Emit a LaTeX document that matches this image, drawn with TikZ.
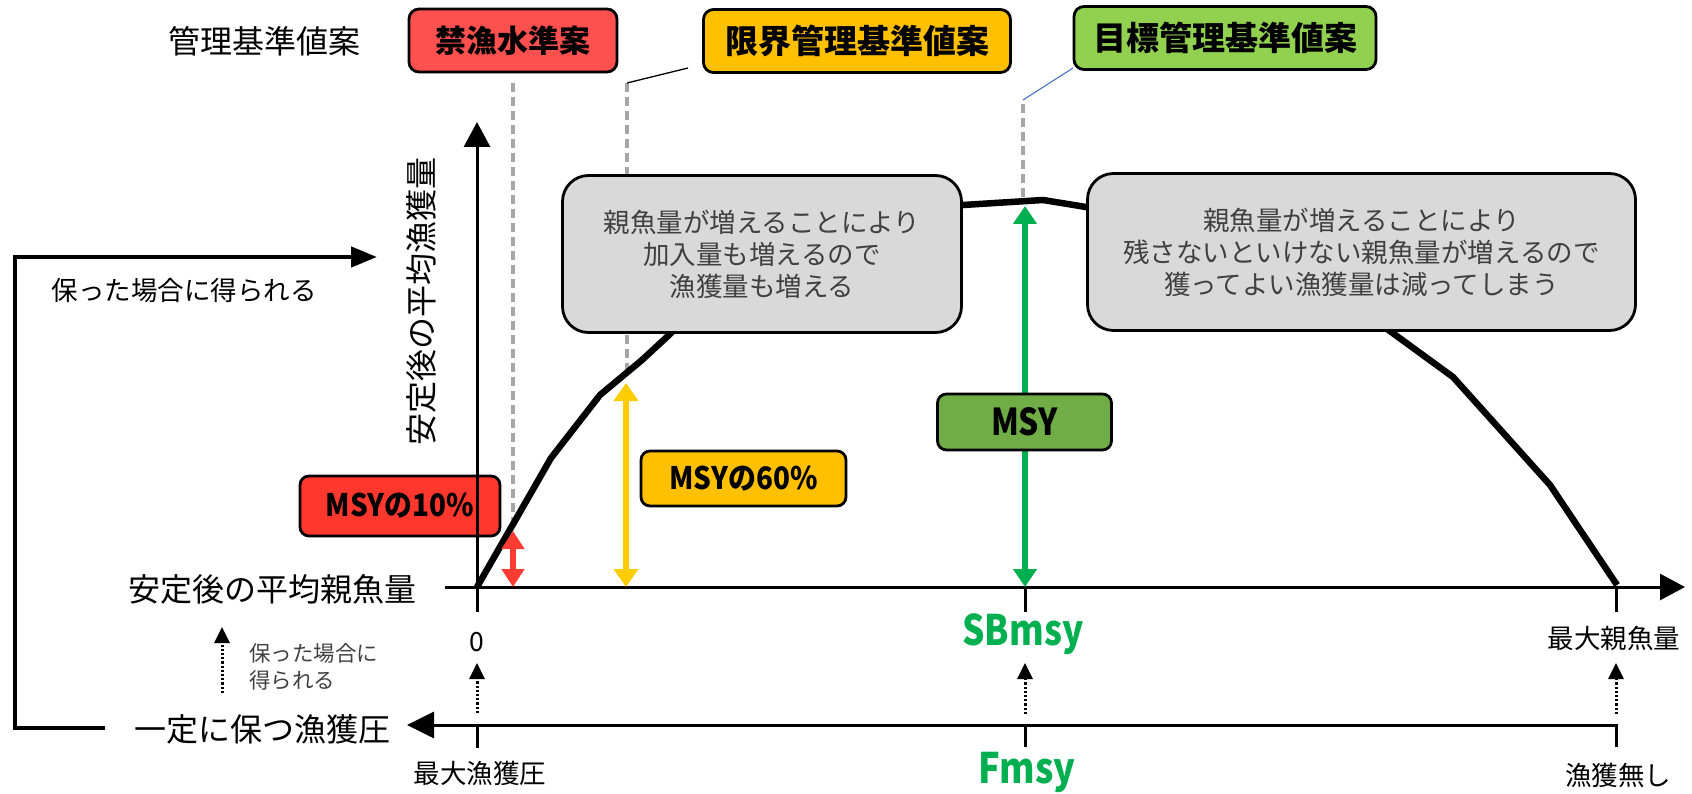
\documentclass[tikz,border=0pt]{standalone}
\usepackage{fontspec}
\usepackage{graphicx}
\setmainfont{Noto Sans CJK JP}
\usetikzlibrary{arrows.meta}
\definecolor{topred}{RGB}{255,80,80}
\definecolor{topyel}{RGB}{255,192,0}
\definecolor{topgrn}{RGB}{146,208,80}
\definecolor{msyred}{RGB}{255,55,45}
\definecolor{msygrn}{RGB}{112,173,71}
\definecolor{arrred}{RGB}{255,60,50}
\definecolor{arryel}{RGB}{255,204,0}
\definecolor{arrgrn}{RGB}{0,176,80}
\definecolor{boxgray}{RGB}{217,217,217}
\definecolor{dashgray}{RGB}{166,166,166}
\definecolor{txtgray}{RGB}{64,64,64}
\definecolor{linkblue}{RGB}{68,114,196}
\newcommand{\FS}[2]{\fontsize{#1pt}{#2pt}\selectfont}
\newcommand{\cx}[2]{\scalebox{#1}[1]{#2}}
\begin{document}
\begin{tikzpicture}[x=1pt,y=-1pt,
  lbl/.style={inner sep=0pt, font={\FS{32}{38}}},
  sml/.style={inner sep=0pt, font={\FS{26.5}{32}}},
  tny/.style={inner sep=0pt, font={\FS{21.5}{27}}, align=left, text=txtgray},
  topbox/.style={draw=black, line width=2.8pt, rounded corners=10pt, inner sep=0pt, minimum height=63pt, font={\bfseries\FS{33}{38}}},
  graybox/.style={draw=black, line width=2.8pt, fill=boxgray, rounded corners=26pt, inner sep=0pt, minimum height=157pt, align=center, text=txtgray, font={\FS{26.5}{32}}},
  msybox/.style={draw=black, line width=2.8pt, rounded corners=9pt, inner sep=0pt, font={\bfseries\FS{31}{36}}},
  guideline/.style={draw=dashgray, line width=3.5pt, dash pattern=on 9pt off 5pt},
  axisline/.style={draw=black, line width=3pt},
  bigtip/.style={-{Triangle[width=26pt,length=25pt]}},
  fishcurve/.style={draw=black, line width=6.5pt, line join=round},
  dotarr/.style={draw=black, line width=3pt, dash pattern=on 2.2pt off 2pt, -{Triangle[width=15pt,length=16pt]}},
  dblarr/.style 2 args={draw=#1, line width=6.5pt, {Triangle[width=#2,length=18pt]}-{Triangle[width=#2,length=18pt]}},
  greenlbl/.style={inner sep=0pt, anchor=base, text=arrgrn, font={\bfseries\FS{42}{46}}}
]
\useasboundingbox (0,0) rectangle (1692,794);

% coordinates
\coordinate (O) at (477,587);
\coordinate (ytop) at (477,122);
\coordinate (ybot) at (477,612);
\coordinate (xleft) at (445,587);
\coordinate (xright) at (1685,587);
\coordinate (sbx) at (1025,587);
\coordinate (sbtick) at (1025,612);
\coordinate (maxx) at (1616,587);
\coordinate (maxtick) at (1616,612);

\coordinate (g1top) at (513,83);  \coordinate (g1bot) at (513,527);
\coordinate (g2top) at (627,83);  \coordinate (g2bot) at (627,371);
\coordinate (g3top) at (1023,104); \coordinate (g3bot) at (1023,200);
\coordinate (l2end) at (688,68);
\coordinate (l3start) at (1023,100); \coordinate (l3end) at (1073,68);

% guide lines
\draw[guideline] (g1top) -- (g1bot);
\draw[guideline] (g2top) -- (g2bot);
\draw[guideline] (g3top) -- (g3bot);
\draw[black, line width=1.3pt] (g2top) -- (l2end);
\draw[linkblue, line width=1.1pt] (l3start) -- (l3end);

% MSY10 box (under the y axis)
\node[msybox, fill=msyred, minimum width=200pt, minimum height=60pt] (m10) at (400,506) {\cx{0.9}{MSYの10\%}};

% axes
\draw[axisline, bigtip] (ybot) -- (ytop);
\draw[axisline, bigtip] (xleft) -- (xright);
\draw[axisline] (sbx) -- (sbtick);
\draw[axisline] (maxx) -- (maxtick);

% curve
\draw[fishcurve] (O) -- (551,458) -- (600,395) -- (642,360) -- (669,335) -- (700,305) -- (850,225) -- (963,205) -- (1043,200) -- (1086,207) -- (1200,250) -- (1350,302) -- (1453,377) -- (1550,485) -- (1617,585);

% double arrows
\coordinate (r1) at (513,531); \coordinate (r2) at (513,587);
\coordinate (y1) at (626,383); \coordinate (y2) at (626,587);
\coordinate (gr1) at (1025,206); \coordinate (gr2) at (1025,587);
\draw[dblarr={arrred}{22pt}] (r1) -- (r2);
\draw[dblarr={arryel}{24pt}] (y1) -- (y2);
\draw[dblarr={arrgrn}{23pt}] (gr1) -- (gr2);

% gray boxes
\node[graybox, minimum width=399pt] (gb1) at (762,254) {親魚量が増えることにより\\加入量も増えるので\\漁獲量も増える};
\node[graybox, minimum width=548pt] (gb2) at (1361.5,252) {親魚量が増えることにより\\残さないといけない親魚量が増えるので\\獲ってよい漁獲量は減ってしまう};

% MSY boxes
\node[msybox, fill=topyel, minimum width=205pt, minimum height=55pt] (m60) at (743.5,478.5) {\cx{0.9}{MSYの60\%}};
\node[msybox, fill=msygrn, minimum width=174pt, minimum height=56pt, font={\bfseries\FS{37}{40}}] (msy) at (1024.5,422) {\cx{0.86}{MSY}};

% top boxes
\node[lbl] (kanri) at (264,41) {管理基準値案};
\node[topbox, fill=topred, minimum width=208pt, font={\bfseries\FS{31}{36}}] (kinryo) at (513,40.5) {禁漁水準案};
\node[topbox, fill=topyel, minimum width=307pt] (genkai) at (857,41) {限界管理基準値案};
\node[topbox, fill=topgrn, minimum width=302pt] (mokuhyo) at (1225,38) {目標管理基準値案};

% lower axis
\coordinate (fa) at (1616,747); \coordinate (fb) at (1616,725); \coordinate (fc) at (407,725);
\draw[axisline, -{Triangle[width=26pt,length=27pt]}] (fa) -- (fb) -- (fc);
\coordinate (t1a) at (477,725); \coordinate (t1b) at (477,748);
\coordinate (t2a) at (1025,725); \coordinate (t2b) at (1025,747);
\draw[axisline] (t1a) -- (t1b);
\draw[axisline] (t2a) -- (t2b);

% dotted arrows
\coordinate (d1a) at (477,713); \coordinate (d1b) at (477,663);
\coordinate (d2a) at (1025,714); \coordinate (d2b) at (1025,663);
\coordinate (d3a) at (1616,714); \coordinate (d3b) at (1616,663);
\coordinate (d4a) at (222,693); \coordinate (d4b) at (222,627);
\draw[dotarr] (d1a) -- (d1b);
\draw[dotarr] (d2a) -- (d2b);
\draw[dotarr] (d3a) -- (d3b);
\draw[dotarr] (d4a) -- (d4b);

% L arrow
\coordinate (La) at (105,728); \coordinate (Lb) at (15,728); \coordinate (Lc) at (15,257); \coordinate (Ld) at (377,257);
\draw[black, line width=4.5pt, -{Triangle[width=20pt,length=26pt]}] (La) -- (Lb) -- (Lc) -- (Ld);

% labels
\node[lbl] (sbl) at (272,589) {安定後の平均親魚量};
\node[lbl] (fl) at (262,729) {一定に保つ漁獲圧};
\node[lbl, rotate=90] (yl) at (421,301) {安定後の平均漁獲量};
\node[sml] (zero) at (477,642) {0};
\node[sml] (maxf) at (480,773) {最大漁獲圧};
\node[sml] (maxb) at (1614,638) {最大親魚量};
\node[sml] (nof) at (1618,775) {漁獲無し};
\node[sml] (keep1) at (184,291) {保った場合に得られる};
\node[tny, anchor=west] (keep2) at (249,666.5) {保った場合に\\得られる};
\node[greenlbl] (sbmsy) at (1023,645) {\cx{0.84}{SBmsy}};
\node[greenlbl] (fmsy) at (1027,783) {\cx{0.86}{Fmsy}};
\end{tikzpicture}
\end{document}
